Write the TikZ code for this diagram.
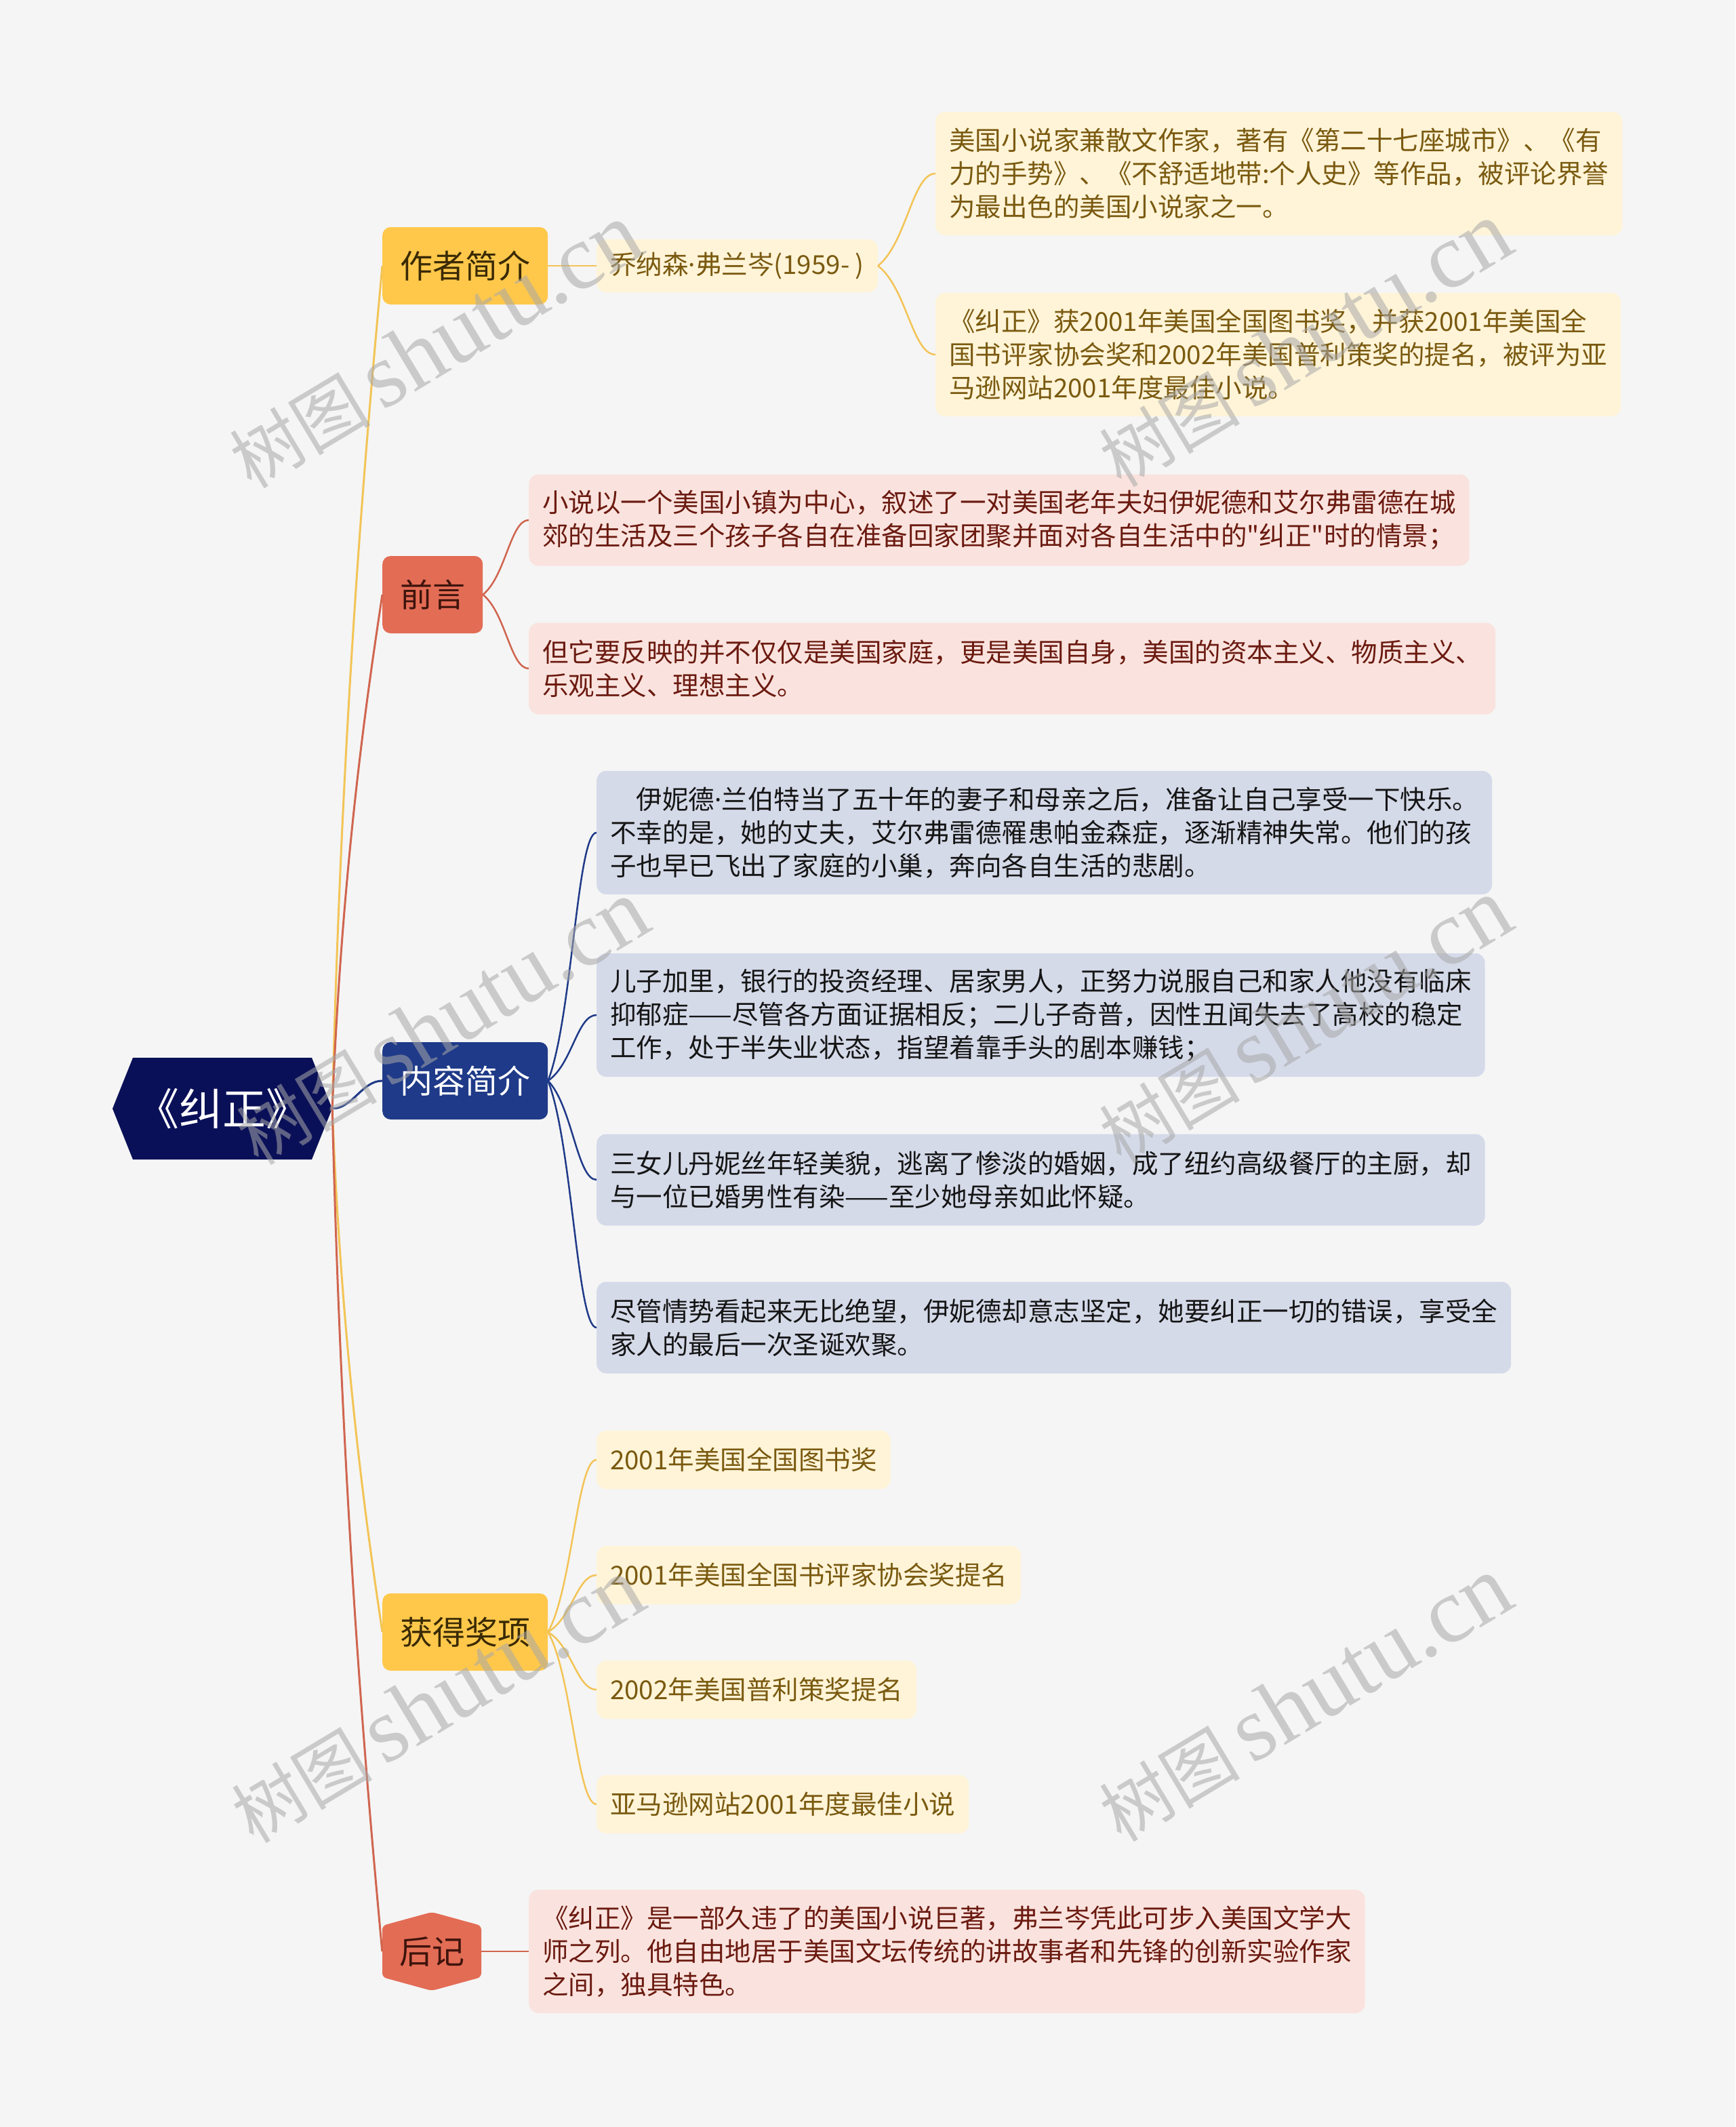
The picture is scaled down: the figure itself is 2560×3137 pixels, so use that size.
\documentclass[tikz,border=0pt]{standalone}
\usepackage{fontspec}
\setmainfont{Noto Sans CJK SC}[Ligatures=TeXOff]
\newfontfamily\latf{Noto Sans}[Ligatures=TeXOff]
\newfontfamily\wmlatin{Liberation Serif}
\usetikzlibrary{calc}
\definecolor{bgc}{HTML}{F5F5F5}
\definecolor{rootc}{HTML}{0A1058}
\definecolor{cY}{HTML}{FFC84B}
\definecolor{cYt}{HTML}{3A2A05}
\definecolor{cR}{HTML}{E36C55}
\definecolor{cRt}{HTML}{3E140C}
\definecolor{cN}{HTML}{1F3A88}
\definecolor{cream}{HTML}{FFF4D8}
\definecolor{creamt}{HTML}{7A5A10}
\definecolor{pink}{HTML}{FAE3DE}
\definecolor{pinkt}{HTML}{6B1A10}
\definecolor{bluebox}{HTML}{D5DAE9}
\definecolor{bluet}{HTML}{151515}
\definecolor{lnYc}{HTML}{F3C456}
\definecolor{lnRc}{HTML}{D0654F}
\definecolor{lnNc}{HTML}{1F3A88}
\definecolor{wmc}{HTML}{A8A8A8}
\newcommand\rootedge[2]{\draw[#1, line width=3] let \p1=(root.east), \p2=(#2.west) in (\p1) .. controls (\x1+15pt, {0.5*\y1+0.5*\y2}) and (\x2-17pt, {0.15*\y1+0.85*\y2}) .. (\p2);}
\newcommand\subedge[3]{\draw[#1] let \p1=(#2.east), \p2=(#3.west) in (\p1) .. controls ({\x1+0.5*(\x2-\x1)}, {\y1+0.25*(\y2-\y1)}) and ({\x2-0.4*(\x2-\x1)}, \y2) .. (\p2);}
\begin{document}
\begin{tikzpicture}[x=1pt,y=-1pt,
  lvA/.style={rounded corners=12, minimum height=114, inner xsep=26, inner ysep=0, font=\fontsize{48}{58}\selectfont, anchor=west},
  txt/.style={rounded corners=14, inner xsep=20, inner ysep=0, align=left, font=\fontsize{38.5}{49}\selectfont, anchor=west},
  one/.style={minimum height=86},
  two/.style={minimum height=135},
  three/.style={minimum height=182},
  yelbox/.style={fill=cY, text=cYt},
  redbox/.style={fill=cR, text=cRt},
  navbox/.style={fill=cN, text=white},
  creambox/.style={fill=cream, text=creamt},
  pinkbox/.style={fill=pink, text=pinkt},
  bluegbox/.style={fill=bluebox, text=bluet},
  lnY/.style={draw=lnYc, line width=2.5},
  lnR/.style={draw=lnRc, line width=2.5},
  lnN/.style={draw=lnNc, line width=2.5},
  wm/.style={text=wmc, opacity=0.55, rotate=31}
]
\useasboundingbox (0,0) rectangle (2560,3137);
\fill[bgc] (0,0) rectangle (2560,3137);

% root
\fill[rootc] (166,1635) -- (196,1560) -- (460,1560) -- (490,1635) -- (460,1710) -- (196,1710) -- cycle;
\node[minimum width=324, minimum height=150, inner sep=0, text=white, font=\fontsize{64}{70}\selectfont] (root) at (328,1635) {《纠正》};

% level 1
\node[lvA, yelbox] (a1) at (564,392) {作者简介};
\node[lvA, redbox] (a2) at (564,877) {前言};
\node[lvA, navbox] (a3) at (564,1594) {内容简介};
\node[lvA, yelbox] (a4) at (564,2407) {获得奖项};
\fill[cR, rounded corners=6] (564,2840) -- (637,2820) -- (710,2840) -- (710,2916) -- (637,2936) -- (564,2916) -- cycle;
\node[minimum width=146, minimum height=116, inner sep=0, text=cRt, font=\fontsize{48}{58}\selectfont] (a5) at (637,2878) {后记};

% level 2 : author
\node[txt, creambox, minimum height=78] (b0) at (880,392) {乔纳森{\latf ·}弗兰岑(1959- )};
\node[txt, creambox, three] (b1) at (1380,256) {美国小说家兼散文作家，著有《第二十七座城市》、《有\\力的手势》、《不舒适地带:个人史》等作品，被评论界誉\\为最出色的美国小说家之一。};
\node[txt, creambox, three] (b2) at (1380,523) {《纠正》获2001年美国全国图书奖，并获2001年美国全\\国书评家协会奖和2002年美国普利策奖的提名，被评为亚\\马逊网站2001年度最佳小说。};

% preface
\node[txt, pinkbox, two] (c1) at (780,767) {小说以一个美国小镇为中心，叙述了一对美国老年夫妇伊妮德和艾尔弗雷德在城\\郊的生活及三个孩子各自在准备回家团聚并面对各自生活中的"纠正"时的情景；};
\node[txt, pinkbox, two] (c2) at (780,986) {但它要反映的并不仅仅是美国家庭，更是美国自身，美国的资本主义、物质主义、\\乐观主义、理想主义。};

% content
\node[txt, bluegbox, three] (d1) at (880,1228) {\hspace*{1em}伊妮德{\latf ·}兰伯特当了五十年的妻子和母亲之后，准备让自己享受一下快乐。\\不幸的是，她的丈夫，艾尔弗雷德罹患帕金森症，逐渐精神失常。他们的孩\\子也早已飞出了家庭的小巢，奔向各自生活的悲剧。};
\node[txt, bluegbox, three] (d2) at (880,1497) {儿子加里，银行的投资经理、居家男人，正努力说服自己和家人他没有临床\\抑郁症——尽管各方面证据相反；二儿子奇普，因性丑闻失去了高校的稳定\\工作，处于半失业状态，指望着靠手头的剧本赚钱；};
\node[txt, bluegbox, two] (d3) at (880,1740) {三女儿丹妮丝年轻美貌，逃离了惨淡的婚姻，成了纽约高级餐厅的主厨，却\\与一位已婚男性有染——至少她母亲如此怀疑。};
\node[txt, bluegbox, two] (d4) at (880,1958) {尽管情势看起来无比绝望，伊妮德却意志坚定，她要纠正一切的错误，享受全\\家人的最后一次圣诞欢聚。};

% awards
\node[txt, creambox, one] (e1) at (880,2153) {2001年美国全国图书奖};
\node[txt, creambox, one] (e2) at (880,2323) {2001年美国全国书评家协会奖提名};
\node[txt, creambox, one] (e3) at (880,2492) {2002年美国普利策奖提名};
\node[txt, creambox, one] (e4) at (880,2661) {亚马逊网站2001年度最佳小说};

% afterword
\node[txt, pinkbox, three] (f1) at (780,2878) {《纠正》是一部久违了的美国小说巨著，弗兰岑凭此可步入美国文学大\\师之列。他自由地居于美国文坛传统的讲故事者和先锋的创新实验作家\\之间，独具特色。};

% root connectors
\rootedge{lnY}{a1}
\rootedge{lnR}{a2}
\draw[lnN, line width=3] (root.east) .. controls ($(root.east)+(30,0)$) and ($(a3.west)-(30,0)$) .. (a3.west);
\rootedge{lnY}{a4}
\rootedge{lnR}{a5}

% level 2 connectors
\draw[lnY] (a1.east) -- (b0.west);
\subedge{lnY}{b0}{b1}
\subedge{lnY}{b0}{b2}
\subedge{lnR}{a2}{c1}
\subedge{lnR}{a2}{c2}
\subedge{lnN}{a3}{d1}
\subedge{lnN}{a3}{d2}
\subedge{lnN}{a3}{d3}
\subedge{lnN}{a3}{d4}
\subedge{lnY}{a4}{e1}
\subedge{lnY}{a4}{e2}
\subedge{lnY}{a4}{e3}
\subedge{lnY}{a4}{e4}
\draw[lnR] (a5.east) -- (f1.west);

% watermarks
\foreach \wx/\wy [count=\i] in {642/510, 1925/508, 652/1508, 1925/1506, 645/2508, 1925/2506}{
  \node[wm] (wm\i) at (\wx,\wy) {\fontsize{104}{110}\selectfont 树图\,{\wmlatin\fontsize{136}{140}\selectfont shutu.cn}};
}
\end{tikzpicture}
\end{document}
